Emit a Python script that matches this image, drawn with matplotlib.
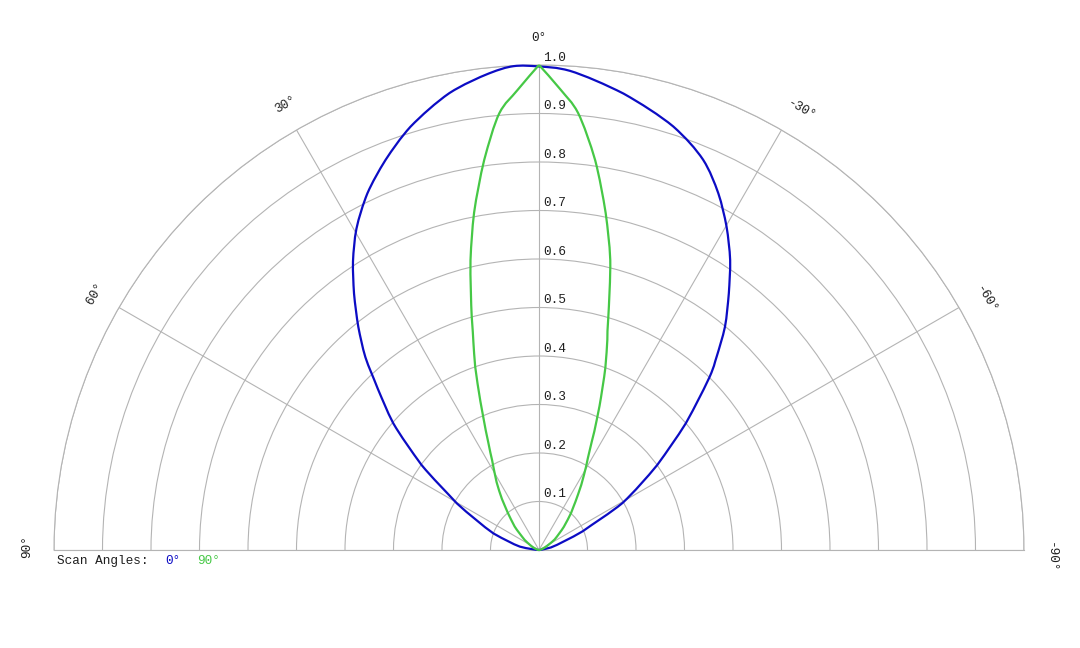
import numpy as np
import matplotlib
matplotlib.use("Agg")
import matplotlib.pyplot as plt
from matplotlib.path import Path
from matplotlib.patches import PathPatch

# beam patterns, angle in degrees (positive = left of 0°), normalised amplitude
blue_deg = [90, 80, 70, 60.4, 54.1, 49, 45, 42, 39, 35.8, 32.8, 29.6, 25.7, 21.5, 16.9,
            11.1, 6, 3, 0, -3.7, -10.5, -17.6, -22.8, -26.7, -30.1, -33.4, -36.5, -39.8,
            -42.6, -44.2, -49.2, -54.3, -60.6, -66.8, -78, -90]
blue_val = [0, 0.04, 0.10, 0.195, 0.299, 0.398, 0.47, 0.535, 0.592, 0.652, 0.708, 0.762,
            0.816, 0.864, 0.912, 0.96, 0.988, 0.999, 0.997, 0.99, 0.957, 0.916, 0.873,
            0.823, 0.771, 0.716, 0.658, 0.599, 0.541, 0.51, 0.40, 0.30, 0.198, 0.098,
            0.025, 0]

# 90° scan: left half and right half, both ending at the pointed tip
green_left_deg = [90, 80, 68, 55, 46, 40, 36, 32, 28.8, 26.5, 24, 21.5, 19.2, 17.5, 16.1,
                  13.3, 10.9, 8, 5.2, 2.7, 0]
green_left_val = [0, 0.003, 0.012, 0.036, 0.07, 0.10, 0.13, 0.165, 0.195, 0.225, 0.27,
                  0.33, 0.40, 0.45, 0.50, 0.614, 0.708, 0.812, 0.904, 0.949, 1.0]
green_right_deg = [0, -2.7, -5.1, -8.2, -11.2, -13.8, -16.6, -18, -20, -22.8, -25, -27,
                   -29.4, -33, -37, -40.9, -47, -56, -68, -80, -90]
green_right_val = [1.0, 0.95, 0.905, 0.812, 0.708, 0.616, 0.50, 0.456, 0.40, 0.322, 0.27,
                   0.23, 0.198, 0.16, 0.125, 0.101, 0.07, 0.039, 0.012, 0.003, 0]

ring_vals = [0.1, 0.2, 0.3, 0.4, 0.5, 0.6, 0.7, 0.8, 0.9, 1.0]
angle_ticks = [90, 60, 30, 0, -30, -60, -90]

BLUE = '#0c0cc4'
GREEN = '#46c846'
GRID = '#b4b4b4'
TXT = '#1e1e1e'
FONT = 'Liberation Mono'
FS = 9.2

W, H = 1080, 648
cx, cy, R = 539, 550, 485   # pixel centre and radius of the half disc


def smooth_path(deg, val):
    # cardinal (catmull-rom) bezier through the points, like a d3 curve
    pts = np.column_stack([np.deg2rad(deg), val])
    n = len(pts)
    verts, codes = [pts[0]], [Path.MOVETO]
    for i in range(n - 1):
        p0 = pts[max(i - 1, 0)]
        p1, p2 = pts[i], pts[i + 1]
        p3 = pts[min(i + 2, n - 1)]
        verts += [p1 + (p2 - p0) / 6, p2 - (p3 - p1) / 6, p2]
        codes += [Path.CURVE4] * 3
    return Path(verts, codes)


fig = plt.figure(figsize=(W / 100, H / 100), dpi=100)
# the half wedge is padded to a square box whose centre sits R/2 above the pole
ax = fig.add_axes([(cx - R) / W, (H - cy - 0.5 * R) / H, 2 * R / W, 2 * R / H],
                  projection='polar')
ax.set_theta_zero_location('N')
ax.set_theta_direction(1)
ax.set_thetamin(-90)
ax.set_thetamax(90)
ax.set_ylim(0, 1)

ax.set_rticks(ring_vals)
ax.set_yticklabels([])
ax.set_thetagrids(angle_ticks, labels=[''] * len(angle_ticks))
ax.tick_params(length=0)
ax.grid(color=GRID, linewidth=0.8)
for sp in ax.spines.values():
    sp.set_color(GRID)
    sp.set_linewidth(0.8)

for deg, val, col in [(blue_deg, blue_val, BLUE),
                      (green_left_deg, green_left_val, GREEN),
                      (green_right_deg, green_right_val, GREEN)]:
    ax.add_patch(PathPatch(smooth_path(deg, val), facecolor='none', edgecolor=col,
                           lw=1.6, transform=ax.transData, clip_on=False, zorder=3))

# radial labels just right of the 0° spoke
for r in ring_vals:
    ax.annotate(f'{r:.1f}', xy=(0, r), xytext=(3, 3), textcoords='offset points',
                ha='left', va='baseline', fontsize=FS, family=FONT, color=TXT)

# angle labels outside the rim
for a in angle_ticks:
    pos = a - 0.8 if a < 0 else a
    if a == 90:
        pos = 89.6
    elif a == 30:
        pos = 29.6
    ax.text(np.deg2rad(pos), 1.056, f'{a}°', rotation=a, rotation_mode='anchor',
            ha='center', va='center', fontsize=FS, family=FONT, color=TXT)

fig.text(57 / W, 1 - 564 / H, 'Scan Angles:', fontsize=FS, family=FONT,
         color=TXT, va='baseline')
fig.text(165 / W, 1 - 564 / H, '0°', fontsize=FS, family=FONT,
         color=BLUE, va='baseline')
fig.text(197 / W, 1 - 564 / H, '90°', fontsize=FS, family=FONT,
         color=GREEN, va='baseline')

fig.savefig('out.png', dpi=100)
